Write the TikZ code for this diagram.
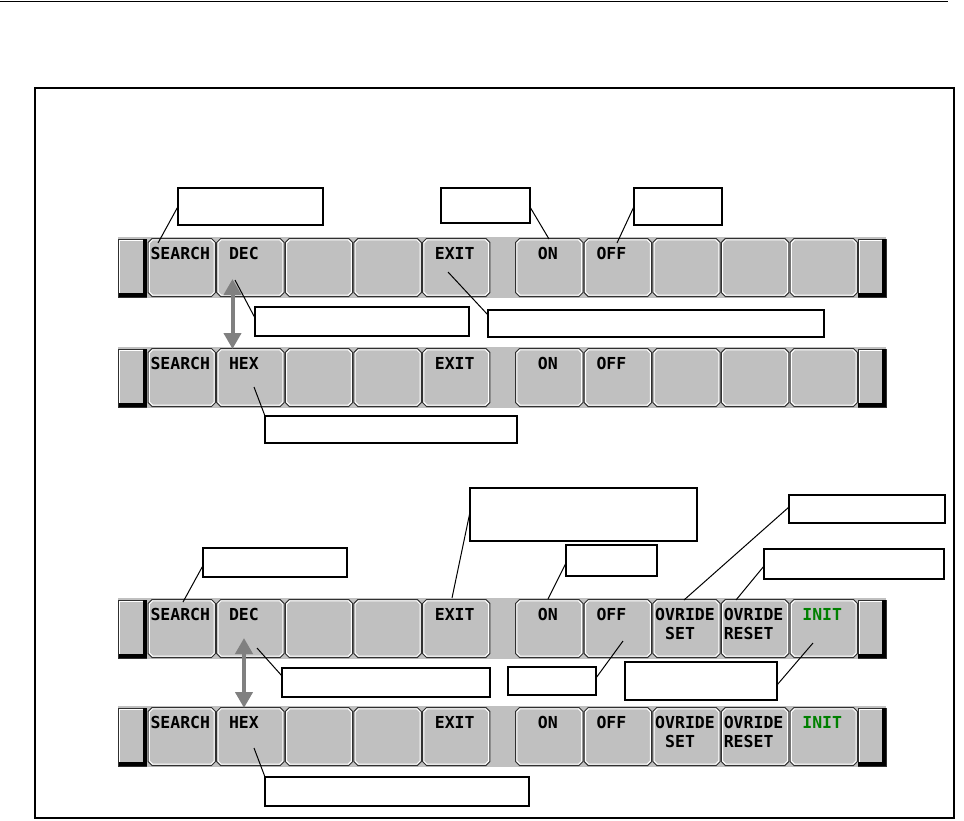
\documentclass[tikz,border=0pt]{standalone}
\usepackage{fontspec}
\newfontfamily\keyfont{DejaVu Sans Mono}
\usetikzlibrary{arrows.meta}
\definecolor{keygray}{HTML}{C0C0C0}
\definecolor{arrowgray}{HTML}{808080}
\definecolor{initgreen}{HTML}{008000}
\definecolor{keyedge}{HTML}{303030}
\newcommand\kgap{\hphantom{S}}
\tikzset{
  callout/.style={draw=black,line width=1.2pt,fill=white,inner sep=0pt,outer sep=0pt},
  leader/.style={draw=black,line width=1pt},
  twoway/.style={draw=arrowgray,line width=4pt,{Triangle[length=16pt,width=17pt]}-{Triangle[length=16pt,width=17pt]}},
  keytext/.style={font=\keyfont\bfseries\fontsize{16.5pt}{18pt}\selectfont,anchor=base west,inner sep=0pt,outer sep=0pt,text=black},
  softkey/.pic={
    \draw[line width=1pt,draw=keyedge,fill=keygray]
      (4.6,1.5)--(64,1.5)--(68,5.5)--(68,55.5)--(64,59.5)--(4.6,59.5)--(0.6,55.5)--(0.6,5.5)--cycle;
    \draw[line width=1pt,white]
      (5.1,2.8)--(63.5,2.8)--(66.7,6)--(66.7,55)--(63.5,58.2)--(5.1,58.2)--(1.9,55)--(1.9,6)--cycle;
  },
  endkey/.pic={
    \fill[keygray] (0,2) rectangle (28.5,60);
    \draw[keyedge,line width=0.8pt] (0.4,2) rectangle (28.5,60);
    \draw[white,line width=1.2pt] (1.6,57) -- (1.6,3.2) -- (26,3.2);
    \draw[black,line width=3.6pt] (26.7,2.4) -- (26.7,58.2) -- (0.8,58.2);
  }
}
\newcommand\keyrow[1]{%
  \fill[keygray] (118,#1) rectangle (886,#1+61);
  \pic at (118,#1) {endkey};
  \foreach \kx in {147.5,216.1,284.7,353.3,421.9,515,583.6,652.2,720.8,789.4}{\pic at (\kx,#1) {softkey};}
  \pic at (857.5,#1) {endkey};
}
\begin{document}
\begin{tikzpicture}[x=1pt,y=-1pt]
\useasboundingbox (0,0) rectangle (964,820);
\draw[line width=1.3pt] (0,1.2) -- (948,1.2);
\draw[line width=1.3pt] (35,88) rectangle (954,818);

% ---------- rows of soft keys
\keyrow{237}
\keyrow{347}
\keyrow{598}
\keyrow{706}

% row 1
\node[keytext] (r1a) at (150.5,259) {SEARCH};
\node[keytext] (r1b) at (219.1,259) {\kgap DEC};
\node[keytext] (r1c) at (424.9,259) {\kgap EXIT};
\node[keytext] (r1d) at (518,259) {\kgap\kgap ON};
\node[keytext] (r1e) at (586.6,259) {\kgap OFF};
% row 2
\node[keytext] (r2a) at (150.5,369) {SEARCH};
\node[keytext] (r2b) at (219.1,369) {\kgap HEX};
\node[keytext] (r2c) at (424.9,369) {\kgap EXIT};
\node[keytext] (r2d) at (518,369) {\kgap\kgap ON};
\node[keytext] (r2e) at (586.6,369) {\kgap OFF};
% row 3
\node[keytext] (r3a) at (150.5,620) {SEARCH};
\node[keytext] (r3b) at (219.1,620) {\kgap DEC};
\node[keytext] (r3c) at (424.9,620) {\kgap EXIT};
\node[keytext] (r3d) at (518,620) {\kgap\kgap ON};
\node[keytext] (r3e) at (586.6,620) {\kgap OFF};
\node[keytext] (r3f) at (655.2,620) {OVRIDE};
\node[keytext] (r3g) at (655.2,639.5) {\kgap SET};
\node[keytext] (r3h) at (723.8,620) {OVRIDE};
\node[keytext] (r3i) at (723.8,639.5) {RESET};
\node[keytext,text=initgreen] (r3j) at (792.4,620) {\kgap INIT};
% row 4
\node[keytext] (r4a) at (150.5,728) {SEARCH};
\node[keytext] (r4b) at (219.1,728) {\kgap HEX};
\node[keytext] (r4c) at (424.9,728) {\kgap EXIT};
\node[keytext] (r4d) at (518,728) {\kgap\kgap ON};
\node[keytext] (r4e) at (586.6,728) {\kgap OFF};
\node[keytext] (r4f) at (655.2,728) {OVRIDE};
\node[keytext] (r4g) at (655.2,747.5) {\kgap SET};
\node[keytext] (r4h) at (723.8,728) {OVRIDE};
\node[keytext] (r4i) at (723.8,747.5) {RESET};
\node[keytext,text=initgreen] (r4j) at (792.4,728) {\kgap INIT};

% ---------- grey two-way arrows
\coordinate (up1) at (232.5,279);
\coordinate (dn1) at (232.5,349);
\coordinate (up2) at (244,638);
\coordinate (dn2) at (244,708);
\draw[twoway] (up1) -- (dn1);
\draw[twoway] (up2) -- (dn2);

% ---------- callout boxes
\node[callout,minimum width=145pt,minimum height=37pt] (boxA) at (250.5,206.5) {};
\node[callout,minimum width=89pt,minimum height=35pt] (boxB) at (485.5,205.5) {};
\node[callout,minimum width=88pt,minimum height=37pt] (boxC) at (678,206.5) {};
\node[callout,minimum width=214pt,minimum height=29pt] (boxD) at (362,321.5) {};
\node[callout,minimum width=336pt,minimum height=27pt] (boxE) at (656,323.5) {};
\node[callout,minimum width=252pt,minimum height=27pt] (boxF) at (391,429.5) {};
\node[callout,minimum width=144pt,minimum height=29pt] (boxG) at (275,562.5) {};
\node[callout,minimum width=227pt,minimum height=53pt] (boxH) at (583.5,514.5) {};
\node[callout,minimum width=91pt,minimum height=31pt] (boxI) at (611.5,560.5) {};
\node[callout,minimum width=156pt,minimum height=28pt] (boxJ) at (867,509) {};
\node[callout,minimum width=180pt,minimum height=30pt] (boxK) at (854,564) {};
\node[callout,minimum width=88pt,minimum height=28pt] (boxL) at (552,681) {};
\node[callout,minimum width=152pt,minimum height=38pt] (boxM) at (701,681) {};
\node[callout,minimum width=208pt,minimum height=29pt] (boxN) at (386,682.5) {};
\node[callout,minimum width=264pt,minimum height=29pt] (boxO) at (397,791.5) {};

% ---------- leader end points on the keys
\coordinate (pA) at (158,243);
\coordinate (pB) at (549,239);
\coordinate (pC) at (617,243);
\coordinate (pD) at (235,280);
\coordinate (pE) at (448,272);
\coordinate (pF) at (254,387);
\coordinate (pG) at (183,602);
\coordinate (pH) at (452,598);
\coordinate (pI) at (548,599);
\coordinate (pJ) at (684,600);
\coordinate (pK) at (736,600);
\coordinate (pL) at (623,641);
\coordinate (pM) at (813,643);
\coordinate (pN) at (257,648);
\coordinate (pO) at (254,748);

% ---------- leaders
\draw[leader] (boxA.west) -- (pA);
\draw[leader] ([yshift=-1.5pt]boxB.east) -- (pB);
\draw[leader] (boxC.west) -- (pC);
\draw[leader] ([yshift=3.5pt]boxD.west) -- (pD);
\draw[leader] ([yshift=8.5pt]boxE.west) -- (pE);
\draw[leader] (boxF.north west) -- (pF);
\draw[leader] ([yshift=-3pt]boxG.west) -- (pG);
\draw[leader] ([yshift=2.5pt]boxH.west) -- (pH);
\draw[leader] ([yshift=-2.5pt]boxI.west) -- (pI);
\draw[leader] ([yshift=2pt]boxJ.west) -- (pJ);
\draw[leader] ([yshift=-2pt]boxK.west) -- (pK);
\draw[leader] ([yshift=3pt]boxL.east) -- (pL);
\draw[leader] ([yshift=-4pt]boxM.east) -- (pM);
\draw[leader] ([yshift=6.5pt]boxN.west) -- (pN);
\draw[leader] (boxO.north west) -- (pO);
\end{tikzpicture}
\end{document}
